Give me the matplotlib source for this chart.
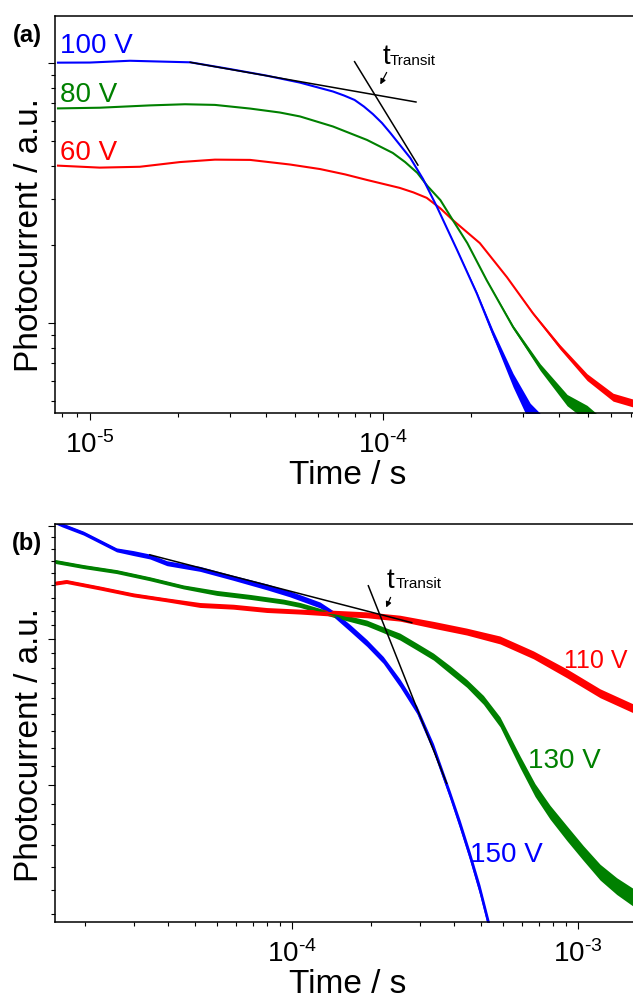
import numpy as np
import matplotlib
matplotlib.use("Agg")
import matplotlib.pyplot as plt
from matplotlib.ticker import LogLocator, FixedLocator, NullFormatter, FuncFormatter

plt.rcParams["font.family"] = ["Liberation Sans", "DejaVu Sans"]
plt.rcParams["mathtext.fontset"] = "custom"
plt.rcParams["mathtext.rm"] = "Liberation Sans"
plt.rcParams["mathtext.it"] = "Liberation Sans:italic"
plt.rcParams["mathtext.bf"] = "Liberation Sans:bold"
plt.rcParams["axes.unicode_minus"] = False

BLUE = "#0000ff"
GREEN = "#008000"
RED = "#ff0000"

# ---- panel (a): 60 / 80 / 100 V, time in s, photocurrent in a.u.
a_blue_t = [7.78e-6, 1.0e-5, 1.37e-5, 1.73e-5, 2.2e-5, 3.0e-5, 3.99e-5, 5.2e-5, 6.75e-5, 7.36e-5,
            8.0e-5, 8.61e-5, 9.24e-5, 9.92e-5, 1.06e-4, 1.24e-4, 1.37e-4, 1.53e-4, 1.79e-4, 2.09e-4,
            2.37e-4, 2.78e-4, 3.18e-4, 3.57e-4]
a_blue_v = [1.003, 1.004, 1.020, 1.013, 1.006, 0.948, 0.895, 0.841, 0.777, 0.750,
            0.721, 0.680, 0.636, 0.588, 0.538, 0.431, 0.358, 0.279, 0.191, 0.130,
            0.0915, 0.0604, 0.0451, 0.0388]
a_blue_n = [0, 0, 0, 0, 0, 0, 0, 0, 0, 0,
            0, 0, 0, 0, 0, 0, 0, 0, 0.005, 0.015,
            0.03, 0.06, 0.09, 0.11]

a_green_t = [7.78e-6, 1.08e-5, 1.60e-5, 2.11e-5, 2.67e-5, 3.52e-5, 4.45e-5, 5.21e-5, 6.75e-5, 8.82e-5,
             1.08e-4, 1.19e-4, 1.31e-4, 1.42e-4, 1.57e-4, 1.73e-4, 1.94e-4, 2.26e-4, 2.78e-4, 3.44e-4,
             4.25e-4, 4.97e-4, 5.5e-4]
a_green_v = [0.669, 0.673, 0.687, 0.694, 0.690, 0.668, 0.645, 0.623, 0.570, 0.506,
             0.451, 0.416, 0.378, 0.336, 0.297, 0.249, 0.203, 0.146, 0.0965, 0.0677,
             0.0506, 0.0451, 0.0405]
a_green_n = [0, 0, 0, 0, 0, 0, 0, 0, 0, 0,
             0, 0, 0, 0, 0, 0, 0, 0.005, 0.015, 0.03,
             0.05, 0.07, 0.08]

a_red_t = [7.78e-6, 1.08e-5, 1.48e-5, 2.03e-5, 2.67e-5, 3.52e-5, 4.82e-5, 6.1e-5, 7.42e-5, 8.82e-5,
           1.14e-4, 1.27e-4, 1.41e-4, 1.57e-4, 1.73e-4, 2.14e-4, 2.65e-4, 3.25e-4, 4.02e-4, 4.97e-4,
           6.1e-4, 7.54e-4]
a_red_v = [0.403, 0.396, 0.399, 0.416, 0.425, 0.424, 0.407, 0.391, 0.373, 0.355,
           0.331, 0.318, 0.303, 0.276, 0.249, 0.203, 0.150, 0.109, 0.0809, 0.0620,
           0.0519, 0.0484]
a_red_n = [0, 0, 0, 0, 0, 0, 0, 0, 0, 0,
           0, 0, 0, 0, 0, 0, 0, 0.01, 0.02, 0.03,
           0.035, 0.035]

a_fit1_t = [2.2e-5, 1.296e-4]
a_fit1_v = [1.006, 0.708]
a_fit2_t = [8.0e-5, 1.316e-4]
a_fit2_v = [1.0116, 0.405]

# ---- panel (b): 110 / 130 / 150 V
b_blue_t = [1.49e-5, 1.57e-5, 1.87e-5, 2.14e-5, 2.44e-5, 2.79e-5, 3.19e-5, 3.66e-5, 4.78e-5, 6.23e-5,
            8.2e-5, 9.86e-5, 1.256e-4, 1.40e-4, 1.60e-4, 1.83e-4, 2.09e-4, 2.39e-4, 2.74e-4, 3.13e-4,
            3.58e-4, 3.88e-4, 4.2e-4, 4.55e-4, 4.94e-4]
b_blue_v = [44.36, 44.1, 43.36, 42.62, 41.91, 41.64, 41.35, 40.79, 40.32, 39.60,
            38.87, 38.32, 37.47, 36.80, 35.76, 34.69, 33.51, 31.98, 30.28, 28.03,
            25.47, 23.97, 22.50, 21.00, 19.36]
b_blue_n = [0.004, 0.004, 0.004, 0.004, 0.004, 0.005, 0.005, 0.005, 0.005, 0.005,
            0.006, 0.006, 0.006, 0.006, 0.007, 0.007, 0.007, 0.008, 0.008, 0.009,
            0.009, 0.01, 0.01, 0.011, 0.011]

b_green_t = [1.49e-5, 1.87e-5, 2.44e-5, 3.19e-5, 4.18e-5, 5.47e-5, 7.15e-5, 9.35e-5, 1.07e-4, 1.40e-4,
             1.83e-4, 2.09e-4, 2.39e-4, 2.74e-4, 3.13e-4, 3.58e-4, 4.09e-4, 4.68e-4, 5.35e-4, 5.80e-4,
             6.29e-4, 7.09e-4, 8.0e-4, 9.15e-4, 1.046e-3, 1.197e-3, 1.369e-3, 1.561e-3, 1.72e-3]
b_green_v = [40.93, 40.51, 40.10, 39.52, 38.87, 38.40, 38.09, 37.73, 37.47, 36.73,
             36.12, 35.63, 35.14, 34.43, 33.74, 32.85, 31.96, 30.90, 29.55, 28.37,
             27.24, 25.73, 24.60, 23.58, 22.64, 21.78, 21.17, 20.70, 20.37]
b_green_n = [0.004, 0.004, 0.004, 0.004, 0.004, 0.005, 0.005, 0.005, 0.005, 0.005,
             0.006, 0.006, 0.007, 0.007, 0.007, 0.008, 0.008, 0.009, 0.01, 0.011,
             0.012, 0.013, 0.014, 0.015, 0.015, 0.016, 0.017, 0.018, 0.018]

b_red_t = [1.49e-5, 1.63e-5, 2.14e-5, 2.79e-5, 3.66e-5, 4.78e-5, 6.25e-5, 8.18e-5, 1.07e-4, 1.40e-4,
           1.83e-4, 2.39e-4, 3.13e-4, 4.09e-4, 5.35e-4, 7.0e-4, 9.15e-4, 1.197e-3, 1.561e-3, 1.72e-3]
b_red_v = [39.17, 39.30, 38.78, 38.25, 37.86, 37.47, 37.34, 37.09, 36.97, 36.85,
           36.73, 36.48, 35.99, 35.50, 34.90, 33.86, 32.62, 31.32, 30.38, 30.03]
b_red_n = [0.004, 0.004, 0.004, 0.004, 0.004, 0.005, 0.005, 0.005, 0.005, 0.006,
           0.006, 0.006, 0.007, 0.007, 0.008, 0.008, 0.009, 0.009, 0.009, 0.009]

b_fit1_t = [3.19e-5, 2.628e-4]
b_fit1_v = [41.49, 36.15]
b_fit2_t = [1.853e-4, 3.483e-4]
b_fit2_v = [38.96, 26.08]

b_yticks_major = [26, 35, 44]
b_yticks_minor = list(range(20, 45))


def decade_label(x, pos):
    # "10" with a plain hyphen in the exponent, like the original figure
    e = int(round(np.log10(x)))
    return r"$\mathregular{10^{\text{%d}}}$" % e


def draw_trace(ax, t, v, noise, color):
    t = np.array(t)
    v = np.array(v)
    n = np.array(noise)
    ax.fill_between(t, v * (1 - n), v * (1 + n), color=color, lw=0)
    ax.plot(t, v, color=color, lw=1.5, solid_joinstyle="round")


def style_axes(ax):
    ax.set_xscale("log")
    ax.set_yscale("log")
    ax.spines["right"].set_visible(False)
    for s in ("left", "bottom", "top"):
        ax.spines[s].set_linewidth(1.1)
    ax.tick_params(which="both", direction="out", top=False, right=False, width=0.8, labelsize=20)
    ax.tick_params(which="major", length=5, pad=8)
    ax.tick_params(which="minor", length=2.8)
    ax.yaxis.set_major_formatter(NullFormatter())
    ax.yaxis.set_minor_formatter(NullFormatter())
    ax.xaxis.set_major_formatter(FuncFormatter(decade_label))
    ax.xaxis.set_minor_formatter(NullFormatter())
    ax.set_xlabel("Time / s", fontsize=24, labelpad=1)
    ax.set_ylabel("Photocurrent / a.u.", fontsize=24)


fig = plt.figure(figsize=(6.33, 10), dpi=100)
ax_a = fig.add_axes([55 / 633, 1 - 413 / 1000, 585 / 633, 397 / 1000])
ax_b = fig.add_axes([55 / 633, 1 - 922 / 1000, 585 / 633, 398 / 1000])

# panel (a)
style_axes(ax_a)
draw_trace(ax_a, a_red_t, a_red_v, a_red_n, RED)
draw_trace(ax_a, a_green_t, a_green_v, a_green_n, GREEN)
draw_trace(ax_a, a_blue_t, a_blue_v, a_blue_n, BLUE)
ax_a.plot(a_fit1_t, a_fit1_v, color="black", lw=1.1)
ax_a.plot(a_fit2_t, a_fit2_v, color="black", lw=1.1)
ax_a.set_xlim(7.6e-6, 7.535e-4)
ax_a.set_ylim(0.0451, 1.516)
ax_a.xaxis.set_major_locator(LogLocator(base=10))
ax_a.xaxis.set_minor_locator(LogLocator(base=10, subs=np.arange(2, 10)))
ax_a.yaxis.set_major_locator(LogLocator(base=10))
ax_a.yaxis.set_minor_locator(LogLocator(base=10, subs=np.arange(2, 10)))
ax_a.yaxis.set_label_coords(-0.017, 0.448)

ax_a.text(0.0085, 0.907, "100 V", color=BLUE, fontsize=20, transform=ax_a.transAxes, va="baseline")
ax_a.text(0.0085, 0.783, "80 V", color=GREEN, fontsize=20, transform=ax_a.transAxes, va="baseline")
ax_a.text(0.0085, 0.637, "60 V", color=RED, fontsize=20, transform=ax_a.transAxes, va="baseline")
ax_a.annotate("", xy=(9.69e-5, 0.809), xytext=(1.04e-4, 0.940),
              arrowprops=dict(arrowstyle="-|>", color="black", lw=0.9, mutation_scale=8))
ax_a.text(1.0e-4, 0.991, "t", fontsize=20, va="baseline")
ax_a.text(1.057e-4, 0.982, "Transit", fontsize=11, va="baseline")

# panel (b)
style_axes(ax_b)
draw_trace(ax_b, b_blue_t, b_blue_v, b_blue_n, BLUE)
draw_trace(ax_b, b_green_t, b_green_v, b_green_n, GREEN)
draw_trace(ax_b, b_red_t, b_red_v, b_red_n, RED)
ax_b.plot(b_fit1_t, b_fit1_v, color="black", lw=1.1)
ax_b.plot(b_fit2_t, b_fit2_v, color="black", lw=1.1)
ax_b.set_xlim(1.487e-5, 1.651e-3)
ax_b.set_ylim(19.68, 44.17)
ax_b.xaxis.set_major_locator(LogLocator(base=10))
ax_b.xaxis.set_minor_locator(FixedLocator([m * 10.0 ** e for e in (-5, -4, -3)
                                           for m in np.arange(1.9, 9.2, 0.9)]))
ax_b.yaxis.set_major_locator(FixedLocator(b_yticks_major))
ax_b.yaxis.set_minor_locator(FixedLocator(b_yticks_minor))
ax_b.yaxis.set_label_coords(-0.017, 0.445)

ax_b.text(0.870, 0.638, "110 V", color=RED, fontsize=18, transform=ax_b.transAxes, va="baseline")
ax_b.text(0.8085, 0.387, "130 V", color=GREEN, fontsize=20, transform=ax_b.transAxes, va="baseline")
ax_b.text(0.709, 0.151, "150 V", color=BLUE, fontsize=20, transform=ax_b.transAxes, va="baseline")
ax_b.annotate("", xy=(2.12e-4, 37.09), xytext=(2.237e-4, 38.25),
              arrowprops=dict(arrowstyle="-|>", color="black", lw=0.9, mutation_scale=8))
ax_b.text(2.154e-4, 38.80, "t", fontsize=20, va="baseline")
ax_b.text(2.315e-4, 38.80, "Transit", fontsize=11, va="baseline")

fig.text(13 / 633, 1 - 42 / 1000, "(a)", fontsize=17, fontweight="bold")
fig.text(12 / 633, 1 - 550 / 1000, "(b)", fontsize=17, fontweight="bold")

fig.savefig("out.png", dpi=100)
